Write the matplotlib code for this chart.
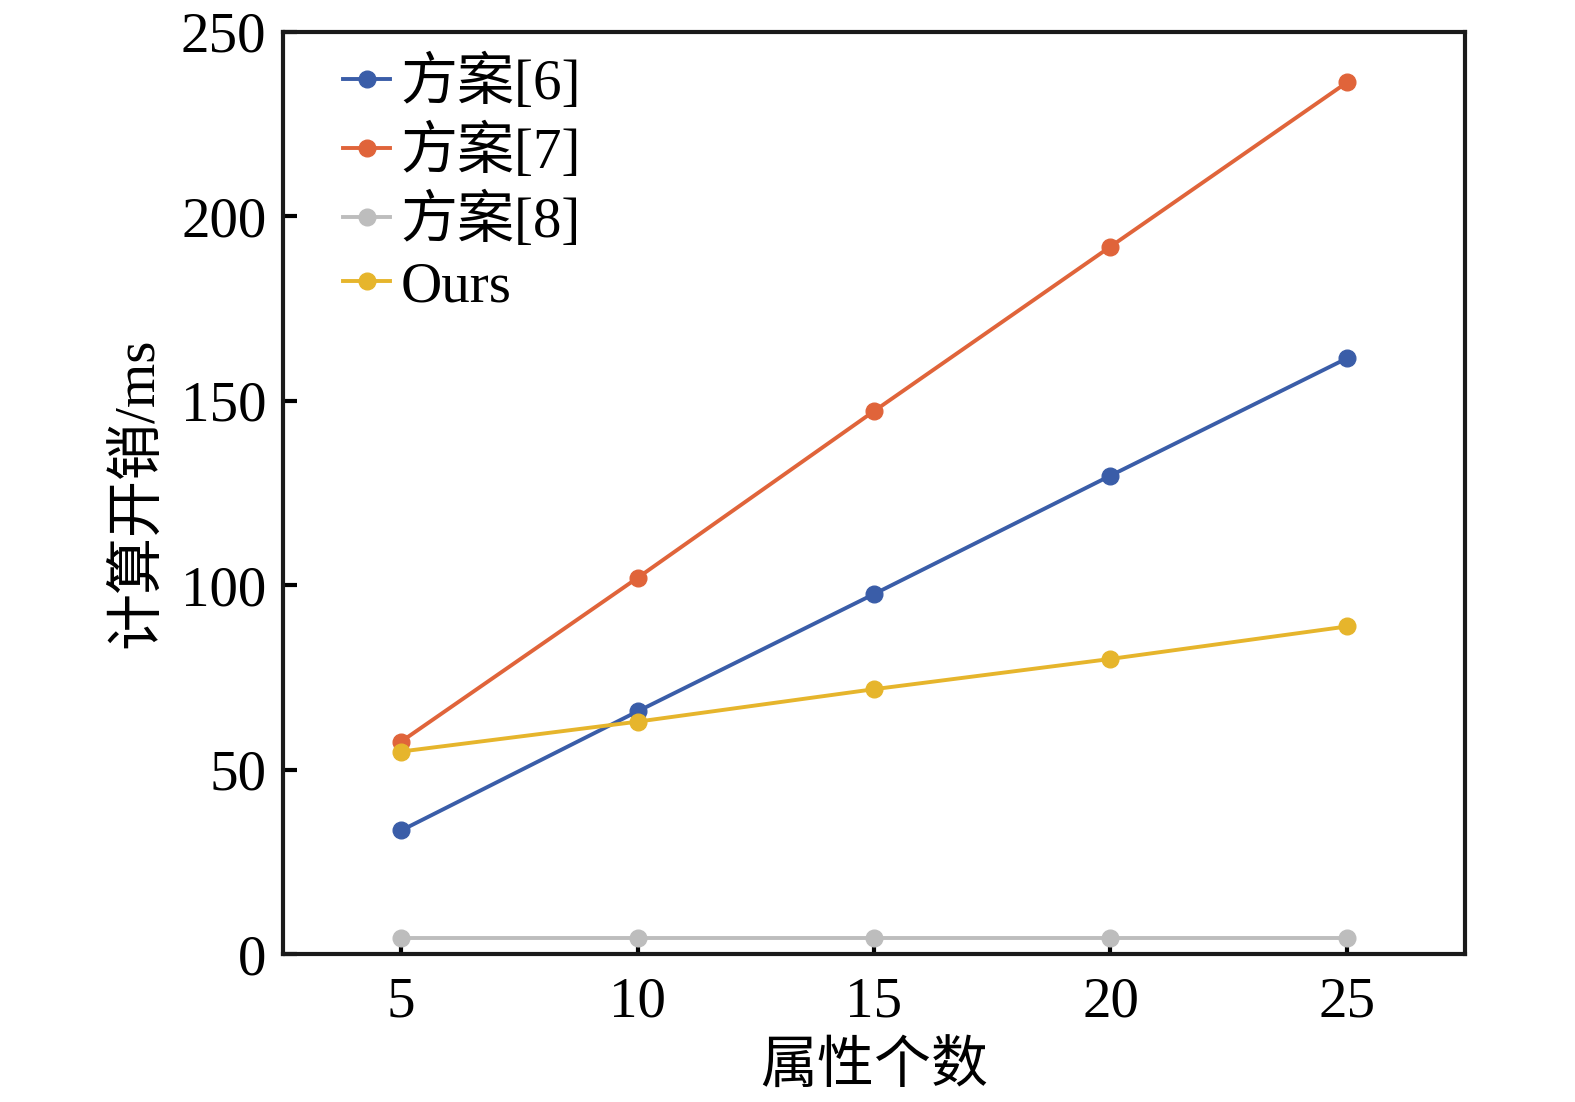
import matplotlib
matplotlib.use('Agg')
import matplotlib.pyplot as plt

plt.rcParams['font.family'] = ['Liberation Serif', 'Noto Sans CJK SC']
plt.rcParams['axes.unicode_minus'] = False

attrs = [5, 10, 15, 20, 25]
scheme6 = [33.5, 65.8, 97.6, 129.7, 161.5]
scheme7 = [57.6, 102.0, 147.2, 191.8, 236.3]
scheme8 = [4.4, 4.4, 4.4, 4.4, 4.4]
ours = [54.9, 63.0, 71.8, 80.0, 88.8]

labels = ['方案[6]', '方案[7]', '方案[8]', 'Ours']
colors = ['#3A5DA8', '#E0643A', '#BDBDBD', '#E6B52C']

fig = plt.figure(figsize=(15.75, 11.02), dpi=100)
ax = fig.add_axes([0.1797, 0.1343, 0.7505, 0.8367])

for ys, lab, col in zip([scheme6, scheme7, scheme8, ours], labels, colors):
    ax.plot(attrs, ys, '-o', color=col, lw=2.8, ms=12, label=lab)

ax.set_xlim(2.5, 27.5)
ax.set_ylim(0, 250)
ax.set_xticks(attrs)
ax.set_yticks([0, 50, 100, 150, 200, 250])
ax.tick_params(axis='both', direction='in', length=10, width=3, labelsize=41)
ax.tick_params(axis='x', pad=16)
ax.tick_params(axis='y', pad=12)
ax.tick_params(top=False, right=False)
for sp in ax.spines.values():
    sp.set_linewidth(3)
    sp.set_color('#1a1a1a')

ax.set_xlabel('属性个数', fontsize=41, labelpad=10)
ax.set_ylabel('计算开销/ms', fontsize=41, labelpad=12)

# legend placed to sit where the original has it
ax.legend(loc='upper left', bbox_to_anchor=(0.051, 0.975), frameon=False, fontsize=41,
          handlelength=0.82, handletextpad=0.18, labelspacing=0.22, borderaxespad=0, borderpad=0)

fig.savefig('out.png', dpi=100)
